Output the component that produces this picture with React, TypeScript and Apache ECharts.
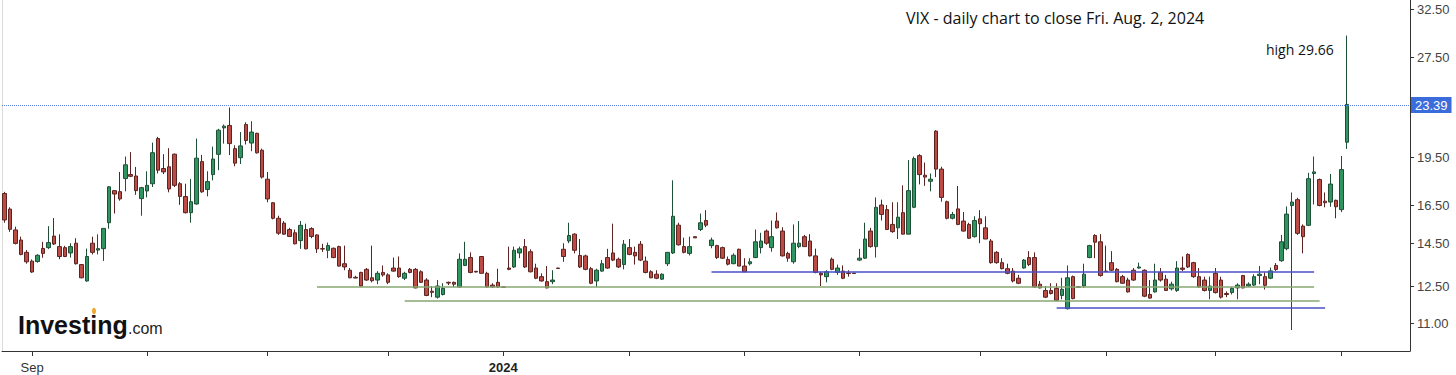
import React, { useEffect, useRef } from 'react';
import * as echarts from 'echarts';

// ---- data (VIX daily, weekday bars incl. holiday bars, 2023-08-25 .. 2024-08-02) ----
const opens = [
  17.2, 16.3, 15.17, 14.65, 14.04, 13.62, 13.6, 14.23, 14.27, 14.85,
  14.32, 14.27, 14.01, 14.49, 13.46, 12.72, 14.49, 14.15, 14.22, 15.55,
  17.37, 17.31, 18.11, 18.36, 18.27, 16.9, 17.35, 17.79, 20.79, 18.75,
  18.86, 19.7, 17.79, 17.02, 16.1, 16.59, 19.2, 17.44, 18.36, 19.69,
  21.57, 21.75, 20.08, 19.46, 21.82, 20.47, 21.17, 19.97, 18.07, 16.66,
  15.79, 15.53, 15.19, 15.02, 14.62, 15.19, 15.24, 14.91, 14.22, 14.14,
  14.24, 14.32, 13.5, 13.2, 12.88, 13.1, 13.24, 12.86, 12.76, 13.1,
  12.99, 13.3, 13.3, 12.84, 13.24, 13.24, 13.13, 12.76, 12.28, 12.03,
  12.14, 12.66, 12.66, 12.46, 13.42, 13.79, 13.15, 13.84, 13.06, 12.54,
  12.66, 12.46,
  13.3, 13.35, 14.01, 14.32, 14.07, 13.3, 12.91, 12.69, 12.69, 13.3,
  14.19, 14.6, 14.95, 13.89, 13.87, 13.27, 12.72, 13.16, 13.79, 14.01,
  13.71, 13.46, 14.27, 14.04, 14.44, 13.62, 13.13, 13.02, 12.8, 13.5,
  14.01, 15.42, 14.32, 13.99, 14.82, 15.19, 15.67, 14.37, 14.37, 14.27,
  13.7, 13.5, 14.19, 13.39, 13.5, 13.79, 14.27, 15.11, 14.27, 15.64,
  15.11, 13.99, 13.59, 14.32, 14.82, 14.6, 13.87, 13.06, 12.91, 13.71,
  13.1, 13.16, 13.07, 13.07, 13.67, 13.76, 15.11, 14.32, 16.53, 16.27,
  15.46, 15.28, 16.1, 14.95, 16.4, 19.6, 18.32, 17.94, 21.33, 18.71,
  16.72, 15.79, 16.31, 15.64, 15.46, 14.82, 15.76, 15.28, 14.6, 14.04,
  13.55, 13.27, 13.16, 12.84, 13.3, 13.79, 13.79, 12.58, 12.31, 12.31,
  12.4, 12.1, 11.56, 12.91, 12.47, 12.5, 13.79, 14.88, 14.56, 13.16,
  13.55, 13.24, 12.91, 12.76, 13.2, 13.3, 13.2, 12.14, 12.25, 13.1,
  12.8, 12.38, 12.31, 13.3, 13.94, 13.55, 12.91, 12.76, 12.31, 13.06,
  12.76, 12.18, 12.22, 12.42, 12.96, 12.5, 12.54, 12.96, 12.91, 12.84,
  13.42, 13.64, 14.22, 16.5, 16.84, 15.37, 15.41, 18.43, 18.05, 16.75,
  16.7, 16.8, 16.27, 20.53,
];

const highs = [
  17.3, 16.4, 15.34, 14.82, 14.15, 13.7, 13.95, 14.56, 15.37, 15.8,
  14.94, 14.36, 14.49, 14.74, 13.48, 14.22, 14.82, 14.94, 15.25, 17.65,
  17.41, 18.53, 19.54, 19.84, 18.85, 17.6, 18.57, 20.5, 20.91, 19.7,
  20.11, 19.74, 17.89, 17.79, 18.09, 20.79, 19.65, 18.57, 20.22, 21.5,
  21.82, 23.14, 20.31, 21.26, 21.99, 22.07, 21.21, 20.08, 18.53, 16.69,
  15.93, 15.64, 15.28, 15.19, 15.64, 15.5, 15.31, 14.94, 14.46, 14.52,
  14.27, 14.37, 14.37, 13.3, 12.95, 13.13, 13.3, 14.37, 13.16, 13.42,
  13.06, 13.79, 13.84, 13.13, 13.3, 13.3, 13.2, 12.84, 12.5, 12.76,
  12.62, 12.69, 12.69, 13.99, 14.56, 14.04, 13.17, 13.84, 13.13, 12.62,
  13.27, 12.47,
  14.32, 14.32, 14.32, 14.7, 14.19, 13.5, 13.06, 13.39, 13.2, 13.31,
  14.49, 15.55, 15.0, 14.7, 13.93, 13.35, 13.27, 13.67, 14.21, 15.5,
  13.79, 14.65, 14.7, 14.32, 14.6, 13.84, 13.2, 13.2, 13.06, 14.04,
  18.0, 15.55, 14.77, 14.82, 14.82, 16.05, 16.24, 14.77, 14.41, 14.32,
  13.84, 13.99, 14.22, 13.76, 13.76, 15.19, 15.02, 15.19, 15.67, 16.11,
  15.31, 14.07, 15.46, 15.64, 14.91, 14.95, 14.22, 13.13, 13.2, 13.79,
  13.46, 13.42, 13.2, 13.07, 14.21, 15.55, 15.28, 16.97, 16.84, 16.53,
  16.69, 16.69, 17.69, 19.3, 19.54, 19.7, 19.14, 18.43, 21.4, 18.86,
  16.78, 16.14, 17.65, 16.14, 15.55, 15.9, 16.24, 15.9, 14.7, 14.1,
  13.76, 13.5, 13.3, 12.99, 13.72, 14.1, 14.04, 12.72, 12.5, 12.62,
  12.62, 12.86, 13.42, 12.96, 12.47, 13.5, 14.41, 14.95, 14.95, 14.37,
  14.1, 13.3, 12.99, 12.86, 13.3, 13.55, 13.24, 12.76, 13.5, 13.3,
  12.99, 12.69, 13.62, 13.84, 13.99, 13.59, 13.3, 12.91, 12.91, 13.3,
  12.91, 12.27, 12.46, 12.62, 12.99, 12.66, 13.02, 13.39, 13.1, 13.32,
  13.53, 14.91, 16.45, 17.26, 16.95, 15.46, 18.47, 19.54, 18.11, 17.26,
  18.4, 16.84, 19.58, 29.66,
];

const lows = [
  15.55, 15.07, 14.43, 13.9, 13.5, 13.08, 13.55, 13.78, 14.2, 14.4,
  13.71, 13.81, 13.79, 13.46, 12.84, 12.69, 13.94, 13.94, 13.63, 15.23,
  16.05, 16.78, 17.33, 18.2, 17.12, 15.93, 16.97, 17.59, 18.43, 18.39,
  17.27, 17.59, 16.54, 16.05, 15.55, 16.55, 17.24, 17.03, 18.0, 18.64,
  20.43, 19.64, 18.89, 19.04, 20.37, 19.9, 19.74, 18.11, 16.69, 15.73,
  14.91, 14.91, 14.8, 14.43, 14.21, 14.19, 14.74, 14.01, 14.06, 13.76,
  13.76, 13.37, 13.2, 12.84, 12.84, 12.46, 12.72, 12.66, 12.58, 12.91,
  12.58, 13.13, 12.86, 12.76, 13.06, 12.4, 12.63, 12.07, 12.03, 11.97,
  12.1, 12.54, 12.46, 12.42, 13.39, 13.06, 13.1, 13.06, 12.42, 12.42,
  12.42, 12.45,
  13.2, 13.3, 13.76, 13.3, 13.1, 12.8, 12.69, 12.4, 12.58, 13.26,
  13.59, 14.49, 13.99, 13.3, 13.2, 12.58, 12.46, 13.13, 13.27, 13.62,
  13.3, 13.24, 13.9, 13.46, 13.62, 13.06, 12.84, 12.8, 12.76, 13.39,
  13.96, 14.37, 13.99, 13.89, 14.76, 15.11, 15.31, 14.24, 13.72, 13.72,
  13.42, 13.48, 13.39, 13.13, 13.42, 13.76, 13.99, 14.41, 14.07, 15.24,
  13.84, 13.59, 13.5, 14.24, 14.32, 13.84, 13.06, 12.5, 12.66, 13.2,
  12.99, 12.8, 12.91, 13.05, 13.62, 13.72, 14.27, 13.79, 15.67, 15.19,
  15.02, 14.7, 14.95, 14.95, 16.35, 17.75, 17.66, 17.33, 18.2, 16.72,
  15.73, 15.73, 15.42, 15.08, 14.7, 14.77, 14.49, 14.7, 13.5, 13.5,
  13.24, 13.02, 12.66, 12.58, 13.27, 13.39, 12.42, 12.4, 11.99, 12.14,
  11.86, 11.94, 11.53, 11.94, 12.45, 12.42, 13.76, 13.76, 12.91, 13.14,
  13.16, 12.66, 12.59, 12.22, 12.72, 13.27, 12.03, 11.97, 12.22, 12.69,
  12.31, 12.31, 12.25, 13.16, 13.3, 12.86, 12.42, 12.27, 11.94, 12.18,
  11.97, 12.03, 12.14, 11.94, 12.4, 12.46, 12.5, 12.58, 12.35, 12.8,
  13.17, 13.59, 14.14, 10.74, 14.91, 13.99, 15.37, 16.56, 16.46, 16.4,
  16.43, 15.79, 16.13, 20.06,
];

const closes = [
  15.7, 15.2, 14.48, 13.94, 13.59, 13.12, 13.9, 13.99, 14.52, 14.45,
  13.84, 13.84, 14.32, 13.5, 12.86, 13.84, 14.04, 14.22, 15.25, 17.6,
  17.17, 16.88, 18.99, 18.25, 17.37, 17.55, 17.69, 19.8, 18.64, 18.53,
  17.47, 17.69, 17.03, 16.1, 16.72, 19.43, 17.3, 17.92, 19.37, 21.4,
  21.7, 20.43, 19.1, 20.27, 20.65, 21.26, 19.79, 18.2, 16.88, 15.79,
  15.0, 14.95, 14.83, 14.46, 15.41, 14.21, 14.83, 14.21, 14.2, 14.37,
  13.79, 13.39, 13.35, 12.86, 12.85, 12.5, 12.76, 12.73, 13.06, 12.99,
  12.66, 13.16, 12.91, 13.06, 13.1, 12.42, 12.66, 12.1, 12.23, 12.5,
  12.4, 12.63, 12.58, 13.71, 13.71, 13.1, 13.12, 13.06, 12.46, 12.46,
  12.46, 12.45,
  13.24, 14.14, 14.21, 13.35, 13.13, 12.84, 12.72, 12.42, 12.76, 13.28,
  13.84, 14.88, 14.14, 13.35, 13.24, 12.62, 13.2, 13.5, 13.3, 13.67,
  13.35, 14.44, 13.94, 13.87, 13.67, 13.1, 12.86, 12.84, 13.02, 14.04,
  15.9, 14.41, 14.04, 14.32, 14.76, 15.55, 15.42, 14.65, 13.79, 13.76,
  13.48, 13.9, 13.39, 13.13, 13.59, 14.56, 14.6, 14.49, 14.82, 15.28,
  13.87, 13.76, 14.49, 14.49, 14.32, 13.87, 13.1, 12.99, 13.13, 13.24,
  13.3, 12.84, 13.05, 13.05, 13.76, 14.7, 14.32, 16.4, 16.0, 15.19,
  15.08, 15.85, 14.95, 17.37, 19.4, 18.36, 18.2, 18.07, 18.71, 16.97,
  15.79, 16.0, 15.46, 15.11, 14.74, 15.67, 15.5, 14.7, 13.55, 13.55,
  13.27, 13.06, 12.72, 12.62, 13.67, 13.46, 12.46, 12.42, 12.03, 12.18,
  11.9, 12.36, 12.86, 11.97, 12.45, 13.02, 14.37, 14.54, 12.96, 13.14,
  13.2, 12.69, 12.62, 12.25, 12.76, 13.35, 12.07, 11.99, 12.76, 12.76,
  12.31, 12.58, 13.3, 13.24, 13.35, 12.91, 12.46, 12.31, 12.5, 12.22,
  12.03, 12.14, 12.4, 12.54, 12.42, 12.58, 12.91, 13.02, 12.53, 13.17,
  13.23, 14.56, 16.02, 16.7, 14.99, 14.82, 18.1, 18.53, 16.5, 16.66,
  17.77, 16.43, 18.68, 23.39,
];

const firstDay = '2023-08-25';
const axisLastDay = '2024-08-19';

const yTickValues = [11, 12.5, 14.5, 16.5, 19.5, 27.5, 32.5];
const yAxisMin = 9.99;
const yAxisMax = 33.53;
const lastClose = 23.39;
const sessionHigh = 29.66;

const blueLines = [
  { from: '2024-02-22', to: '2024-07-25', value: 13.13 },
  { from: '2024-05-21', to: '2024-07-29', value: 11.58 },
];
const greenLines = [
  { from: '2023-11-14', to: '2024-07-25', value: 12.47 },
  { from: '2023-12-06', to: '2024-07-26', value: 11.88 },
];

const titleText = 'VIX - daily chart to close Fri. Aug. 2, 2024';

function weekdays(from: string, to: string): string[] {
  const out: string[] = [];
  const d = new Date(from + 'T00:00:00Z');
  const end = new Date(to + 'T00:00:00Z');
  while (d <= end) {
    const wd = d.getUTCDay();
    if (wd !== 0 && wd !== 6) out.push(d.toISOString().slice(0, 10));
    d.setUTCDate(d.getUTCDate() + 1);
  }
  return out;
}

const MONTHS = ['Jan', 'Feb', 'Mar', 'Apr', 'May', 'Jun', 'Jul', 'Aug', 'Sep', 'Oct', 'Nov', 'Dec'];

export default function App() {
  const ref = useRef<HTMLDivElement>(null);

  useEffect(() => {
    if (!ref.current) return;
    const chart = echarts.init(ref.current, undefined, { renderer: 'svg' });
    const ln = Math.log;
    const dates = weekdays(firstDay, axisLastDay);
    const monthStart = dates.map((d, i) => i > 0 && d.slice(5, 7) !== dates[i - 1].slice(5, 7));
    const candles = opens.map((o, i) => [ln(o), ln(closes[i]), ln(lows[i]), ln(highs[i])]);
    const tickLn = yTickValues.map((v) => ln(v));
    const font = 'Liberation Sans, Arial, sans-serif';

    const segLines: any[] = [];
    blueLines.forEach((l) =>
      segLines.push([
        { coord: [l.from, ln(l.value)], lineStyle: { color: '#4a4fc9', width: 1.5, type: 'solid' }, label: { show: false } },
        { coord: [l.to, ln(l.value)] },
      ])
    );
    greenLines.forEach((l) =>
      segLines.push([
        { coord: [l.from, ln(l.value)], lineStyle: { color: '#86a772', width: 1.5, type: 'solid' }, label: { show: false } },
        { coord: [l.to, ln(l.value)] },
      ])
    );

    chart.setOption({
      animation: false,
      grid: { left: 2, right: 46, top: 0, bottom: 24, containLabel: false },
      xAxis: {
        type: 'category',
        data: dates,
        boundaryGap: true,
        axisLine: { show: true, lineStyle: { color: '#333', width: 1 } },
        axisTick: {
          show: true,
          alignWithLabel: true,
          interval: (i: number) => monthStart[i],
          length: 5,
          lineStyle: { color: '#333' },
        },
        axisLabel: {
          interval: (i: number) => monthStart[i],
          formatter: (v: string) => {
            const m = Number(v.slice(5, 7));
            if (m === 1) return '{b|' + v.slice(0, 4) + '}';
            if (m === 9) return MONTHS[m - 1];
            return '';
          },
          color: '#333',
          fontSize: 13,
          fontFamily: font,
          margin: 10,
          rich: { b: { fontWeight: 'bold', fontSize: 13, color: '#222', fontFamily: font } },
        },
        splitLine: { show: false },
      },
      yAxis: {
        type: 'value',
        position: 'right',
        min: ln(yAxisMin),
        max: ln(yAxisMax),
        axisLine: { show: true, lineStyle: { color: '#333', width: 1 } },
        axisTick: { show: true, length: 4, customValues: tickLn, lineStyle: { color: '#333' } },
        axisLabel: {
          customValues: tickLn,
          formatter: (v: number) => Math.exp(v).toFixed(2),
          color: '#444',
          fontSize: 13,
          fontFamily: font,
          margin: 7,
        },
        splitLine: { show: false },
      },
      series: [
        {
          type: 'candlestick',
          data: candles,
          barWidth: 4,
          itemStyle: {
            color: '#2f9460',
            color0: '#bb4b44',
            borderColor: '#1f4f36',
            borderColor0: '#5b2421',
            borderWidth: 1,
          },
          markLine: {
            silent: true,
            symbol: ['none', 'none'],
            label: { show: false },
            data: [
              {
                yAxis: ln(lastClose),
                lineStyle: { type: 'dotted', color: '#5b7fe0', width: 1 },
                label: {
                  show: true,
                  position: 'end',
                  formatter: lastClose.toFixed(2),
                  color: '#ffffff',
                  backgroundColor: '#3a6cdc',
                  padding: [2, 4, 1, 4],
                  fontSize: 13,
                  fontFamily: font,
                  distance: 1,
                },
              },
              ...segLines,
            ],
          },
        },
      ],
      graphic: [
        { type: 'line', shape: { x1: 2.5, y1: 0, x2: 2.5, y2: 351 }, style: { stroke: '#dcdcdc', lineWidth: 1 } },
        {
          type: 'text',
          x: 906,
          y: 18,
          style: { text: titleText, fill: '#111', font: '16px "Open Sans", sans-serif', verticalAlign: 'middle' },
        },
        {
          type: 'text',
          x: 1266,
          y: 49,
          style: { text: 'high ' + sessionHigh.toFixed(2), fill: '#111', font: '14px "Open Sans", sans-serif', verticalAlign: 'middle' },
        },
        {
          type: 'text',
          x: 18,
          y: 325,
          style: { text: 'Investing', fill: '#111', font: 'bold 25px Liberation Sans, Arial, sans-serif', verticalAlign: 'middle' },
        },
        {
          type: 'text',
          x: 128,
          y: 328.5,
          style: { text: '.com', fill: '#222', font: '16px Liberation Sans, Arial, sans-serif', verticalAlign: 'middle' },
        },
        { type: 'ellipse', shape: { cx: 94, cy: 311, rx: 2, ry: 3.2 }, style: { fill: '#f2a62a' } },
      ],
    });
    return () => chart.dispose();
  }, []);

  return (
    <div
      ref={ref}
      style={{ position: 'absolute', left: 0, top: 0, width: 1456, height: 375, background: '#fff' }}
    />
  );
}
